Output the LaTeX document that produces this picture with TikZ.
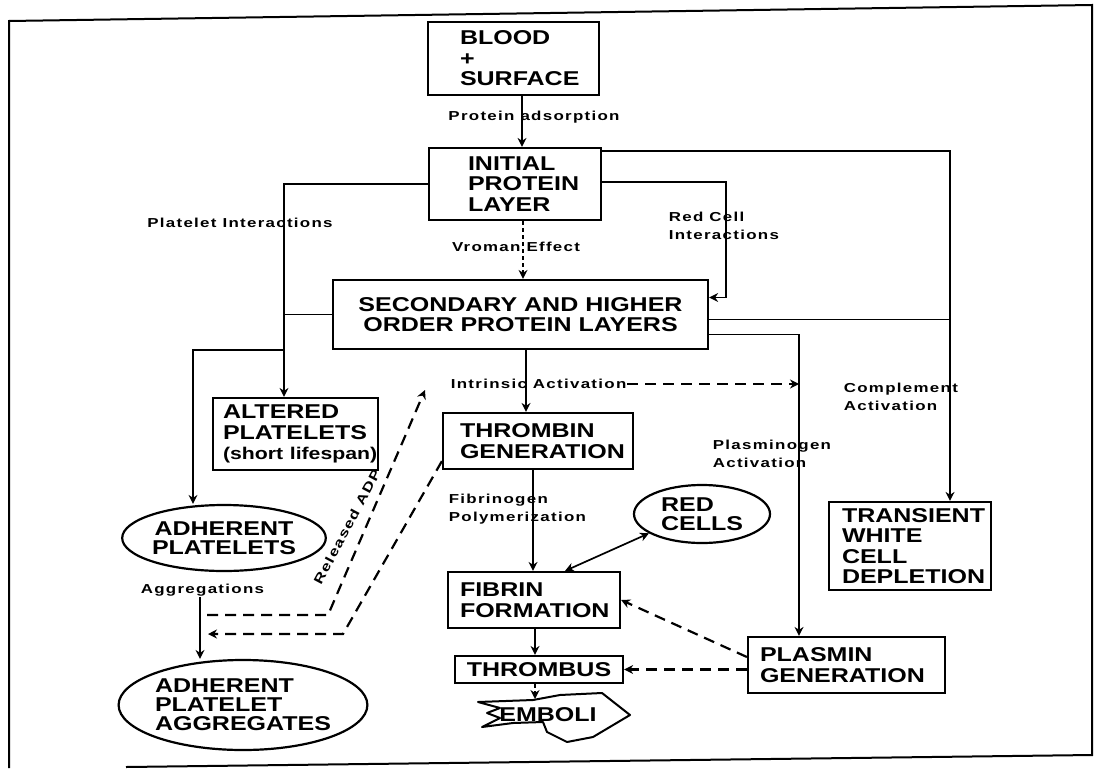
\documentclass[tikz,border=0pt]{standalone}
\usepackage{fontspec}
\newfontfamily\boxfont[FakeStretch=1.25]{Liberation Sans}
\newfontfamily\lblfont[FakeStretch=1.3,LetterSpace=10]{Liberation Sans}
\usetikzlibrary{arrows.meta,positioning,calc,shapes.geometric}
\hfuzz=200pt
\hbadness=10000

\begin{document}
\begin{tikzpicture}[x=1pt,y=-1pt,>={Stealth[length=9pt,width=9pt]},line width=1.7pt,
  box/.style={draw,line width=2.2pt,font=\boxfont\bfseries\fontsize{20}{20.5}\selectfont,align=left,inner ysep=0pt},
  oval/.style={draw,ellipse,line width=2.2pt,inner sep=0pt,font=\boxfont\bfseries\fontsize{20}{19}\selectfont,align=left},
  lbl/.style={font=\lblfont\bfseries\fontsize{13}{17.5}\selectfont,align=left,inner sep=0pt},
  dsh/.style={dash pattern=on 11pt off 7pt,line width=2.2pt},
  fine/.style={dash pattern=on 4pt off 3pt,line width=1.6pt}]
\useasboundingbox (0,0) rectangle (1102,768);
% frame of the scanned page
\draw[line width=2pt] (9,768) -- (9,21) -- (1092,5) -- (1092,755) -- (126,767);

\node[box,minimum width=171pt,minimum height=73pt,text width=107pt,inner xsep=32pt] (blood) at (513.5,58.5) {BLOOD\\+\\SURFACE};
\node[box,minimum width=172pt,minimum height=72pt,text width=94pt,inner xsep=39pt] (initial) at (515,184) {INITIAL\\PROTEIN\\LAYER};
\node[box,align=center,minimum width=375pt,minimum height=69pt] (secondary) at (520.5,314.5) {SECONDARY AND HIGHER\\ORDER PROTEIN LAYERS};
\node[box,minimum width=165pt,minimum height=72pt,text width=145pt,inner xsep=10pt] (altered) at (295.5,434) {ALTERED\\PLATELETS\\\mbox{\fontsize{17}{20}\selectfont(short lifespan)}};
\node[box,minimum width=190pt,minimum height=56pt,text width=156pt,inner xsep=17pt] (thrombin) at (538,441) {THROMBIN\\GENERATION};
\node[box,minimum width=172pt,minimum height=56pt,text width=148pt,inner xsep=12pt] (fibrin) at (534,600) {FIBRIN\\FORMATION};
\node[box,align=center,minimum width=168pt,minimum height=27pt] (thrombus) at (539,669.5) {THROMBUS};
\node[box,minimum width=197pt,minimum height=56pt,text width=173pt,inner xsep=12pt] (plasmin) at (846.5,665) {PLASMIN\\GENERATION};
\node[box,minimum width=162pt,minimum height=88pt,text width=136pt,inner xsep=13pt] (transient) at (910,546) {TRANSIENT\\WHITE\\CELL\\DEPLETION};
\node[oval,align=center,minimum width=184pt,minimum height=66pt] (adherent) at (224,538) {ADHERENT\\PLATELETS};
\node[oval,minimum width=226pt,minimum height=90pt] (aggregates) at (243,705) {ADHERENT\\PLATELET\\AGGREGATES};
\node[oval,minimum width=136pt,minimum height=58pt] (redcells) at (702,514) {RED\\CELLS};

% emboli outline
\draw[line width=2pt,line join=round] (478,702) -- (533,700) -- (560,695) -- (602,693) -- (630,715) -- (593,737)
  -- (567,742) -- (547,732) -- (543,722) -- (513,723) -- (482,727) -- (500,718) -- (487,713) -- (500,708) -- cycle;
\node[font=\boxfont\bfseries\fontsize{20}{20}\selectfont,inner sep=0pt] (emboli) at (548,715) {EMBOLI};
\coordinate (embtop) at (535,699);

\node[lbl] (adsorb) at (534,117) {Protein adsorption};
\node[lbl] (platint) at (240,223) {Platelet Interactions};
\node[lbl] (vroman) at (516,247) {Vroman Effect};
\node[lbl,anchor=west] (redint) at (668,226) {Red Cell\\Interactions};
\node[lbl,anchor=west] (intr) at (450,384) {Intrinsic Activation};
\node[lbl,anchor=west] (compl) at (843,397) {Complement\\Activation};
\node[lbl,anchor=west] (plasmg) at (712,454) {Plasminogen\\Activation};
\node[lbl,anchor=west] (fibpol) at (448,509) {Fibrinogen\\Polymerization};
\node[lbl,anchor=west] (aggr) at (140,590) {Aggregations};
\node[lbl,rotate=62] (adp) at (347,527) {Released ADP};

\coordinate (adsx) at (522,0);
\coordinate (vrx) at (523,0);
\coordinate (plx) at (284,0);
\coordinate (adx) at (193,0);
\coordinate (rcx) at (726,0);
\coordinate (cmx) at (950,0);
\coordinate (pgx) at (799,0);
\coordinate (intx) at (526,0);
\coordinate (fibx) at (533,0);
\coordinate (thx) at (535,0);
\coordinate (agx) at (200,0);
\coordinate (rcin) at ([yshift=17pt]secondary.east);
\coordinate (cmout) at ([yshift=-5pt]secondary.east);
\coordinate (pgout) at ([yshift=-20pt]secondary.east);
\coordinate (adpA) at (207,615);
\coordinate (adpB) at (328,615);
\coordinate (adpC) at (425,390);
\coordinate (tbA) at (343,634);
\coordinate (tbB) at (208,634);

\draw[->] (adsx |- blood.south) -- (adsx |- initial.north);
\draw[->,fine] (vrx |- initial.south) -- (vrx |- secondary.north);
\draw[->] (initial.west) -| (plx |- altered.north);
\draw (secondary.west) -- (secondary.west -| plx);
\draw[->] (plx |- secondary.south) -| (adx |- adherent.north);
\draw[->] ([yshift=-4pt]initial.north east) -| (cmx |- transient.north);
\draw (cmout) -- (cmout -| cmx);
\draw[->] ([yshift=2pt]initial.east) -| (rcx |- rcin) -- (rcin);
\draw[->] (pgout) -| (pgx |- plasmin.north);
\draw[->] (intx |- secondary.south) -- (intx |- thrombin.north);
\draw[->,dsh] (intr.east) -- (intr.east -| pgx);
\draw[->] (fibx |- thrombin.south) -- (fibx |- fibrin.north);
\draw[<->] ([xshift=31pt]fibrin.north) -- (redcells.200);
\draw[->] (thx |- fibrin.south) -- (thx |- thrombus.north);
\draw[->,fine] (thx |- thrombus.south) -- (embtop);
\draw[->,dsh] ([yshift=8pt]plasmin.west) -- (fibrin.east);
\draw[->,dsh] (plasmin.west |- thrombus.east) -- (thrombus.east);
\draw[->] (agx |- aggr.south) -- (agx |- aggregates.north);
\draw[->,dsh] (adpA) -- (adpB) -- (adpC);
\draw[->,dsh] ([yshift=9pt]thrombin.south west) -- (tbA) -- (tbB);
\end{tikzpicture}
\end{document}
